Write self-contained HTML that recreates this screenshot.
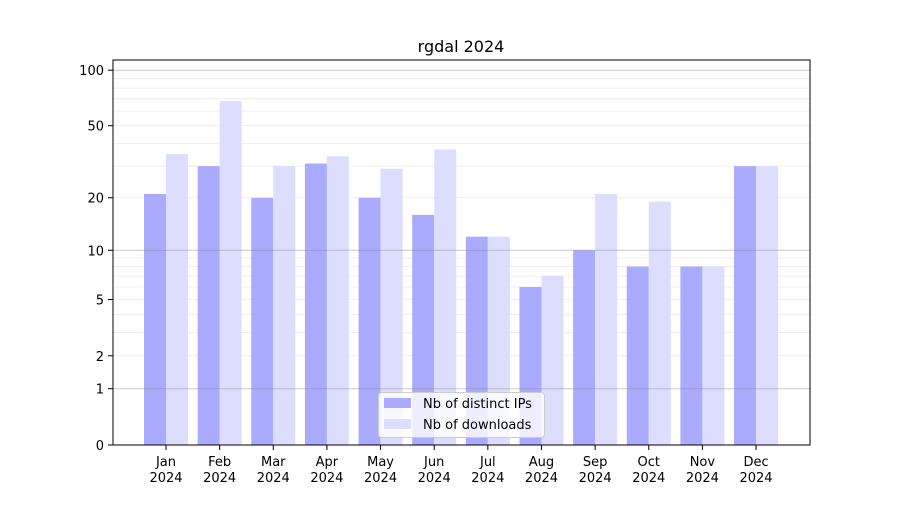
<!DOCTYPE html>
<html><head><meta charset="utf-8"><style>
body{margin:0;background:#fff;}
svg text{font-family:"DejaVu Sans","Liberation Sans",sans-serif;fill:#000;}
</style></head><body>
<svg id="chart" width="900" height="500" xmlns="http://www.w3.org/2000/svg">
<rect width="900" height="500" fill="#fff"/>
<text x="461" y="52" font-size="16" text-anchor="middle">rgdal 2024</text>
<g id="grid"></g>
<g id="bars"></g>
<g id="grid2"></g>
<rect x="113" y="60" width="697" height="385" fill="none" stroke="#000" stroke-width="1"/>
<g id="yaxis"></g>
<g id="xaxis"></g>
<g>
<rect x="378.5" y="392.5" width="166" height="45" rx="3" fill="#fff" fill-opacity="0.8" stroke="#ccc"/>
<rect x="384" y="398" width="27" height="10" fill="#aaaaff"/>
<text x="423" y="408" font-size="13">Nb of distinct IPs</text>
<rect x="384" y="419" width="27" height="10" fill="#ddddff"/>
<text x="423" y="429" font-size="13">Nb of downloads</text>
</g>
</svg>
<script>
const months = ["Jan","Feb","Mar","Apr","May","Jun","Jul","Aug","Sep","Oct","Nov","Dec"];
const ips = [21,30,20,31,20,16,12,6,10,8,8,30];
const downloads = [35,68,30,34,29,37,12,7,21,19,8,30];
const yTicks = [0,1,2,5,10,20,50,100];
const minorGrid = [2,3,4,5,6,7,8,9,20,30,40,50,60,70,80,90];
const majorGrid = [1,10,100];
const NS="http://www.w3.org/2000/svg";
const y0=445, pxPerUnit=187;
function y(v){return y0-pxPerUnit*Math.log10(1+v);}
function x(i){return 166+i*53.64;}
function mk(tag,attrs,parent){const e=document.createElementNS(NS,tag);for(const k in attrs)e.setAttribute(k,attrs[k]);parent.appendChild(e);return e;}
const grid=document.getElementById('grid'),grid2=document.getElementById('grid2'),bars=document.getElementById('bars'),ya=document.getElementById('yaxis'),xa=document.getElementById('xaxis');
minorGrid.forEach(v=>{const l=mk('line',{x1:113,x2:810,y1:y(v),y2:y(v),stroke:'#ebebeb','stroke-width':0.8},grid);

});
majorGrid.forEach(v=>{const l=mk('line',{x1:113,x2:810,y1:y(v),y2:y(v),stroke:'#888','stroke-opacity':0.45,'stroke-width':1},grid2);

});
months.forEach((m,i)=>{
const b1=mk('rect',{x:x(i)-22,y:y(ips[i]),width:22,height:y0-y(ips[i]),fill:'#aaaaff'},bars);


const b2=mk('rect',{x:x(i),y:y(downloads[i]),width:22,height:y0-y(downloads[i]),fill:'#ddddff'},bars);


mk('line',{x1:x(i),x2:x(i),y1:445,y2:450,stroke:'#000'},xa);
const t=mk('text',{x:x(i),y:466,'font-size':13,'text-anchor':'middle'},xa);


mk('tspan',{x:x(i),dy:0},t).textContent=m;
mk('tspan',{x:x(i),dy:16},t).textContent='2024';
});
yTicks.forEach(v=>{
mk('line',{x1:108,x2:113,y1:y(v),y2:y(v),stroke:'#000'},ya);
const t=mk('text',{x:104,y:y(v)+5,'font-size':13,'text-anchor':'end'},ya);


t.textContent=v;
});
</script>
</body></html>
